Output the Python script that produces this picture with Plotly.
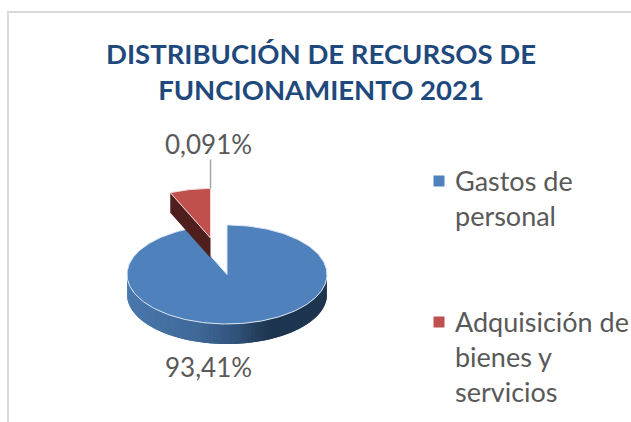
import numpy as np
import plotly.graph_objects as go

# --- data -----------------------------------------------------------------
categories = ["Gastos de<br>personal", "Adquisición de<br>bienes y<br>servicios"]
shares = [93.41, 6.59]
value_labels = ["93,41%", "0,091%"]
title_text = "DISTRIBUCIÓN DE RECURSOS DE<br>FUNCIONAMIENTO 2021"
top_colors = ["#4f81bd", "#c0504d"]
red_side_color = "#4f1f1d"
gradient_stops = [(0.0, "#4a78ae"), (0.35, "#3f6898"), (0.55, "#30527a"),
                  (0.66, "#223c5a"), (0.72, "#1e3550"), (1.0, "#1e3550")]

# --- pie geometry (pixel space of the axes) -------------------------------
CX, CY, RX, RY, DEPTH = 227, 274.5, 100, 49.5, 20
EXPLODE = (-16.5, -36.5)
FONT = "Lato, Carlito, Calibri, sans-serif"
TEXT_COLOR = "#595959"


def ring(a0, a1, n=120):
    """Points on the ellipse; angles clockwise from 12 o'clock, in degrees."""
    t = np.radians(np.linspace(a0, a1, n))
    return CX + RX * np.sin(t), CY - RY * np.cos(t)


def hex2rgb(h):
    return [int(h[i:i + 2], 16) for i in (1, 3, 5)]


def grad(u):
    for (u0, c0), (u1, c1) in zip(gradient_stops, gradient_stops[1:]):
        if u <= u1:
            f = (u - u0) / (u1 - u0)
            a, b = hex2rgb(c0), hex2rgb(c1)
            return "rgb(%d,%d,%d)" % tuple(round(x + (y - x) * f) for x, y in zip(a, b))
    return gradient_stops[-1][1]


fig = go.Figure()


def poly(x, y, fill, line=None, width=0, text=None):
    fig.add_trace(go.Scatter(
        x=list(x), y=list(y), mode="lines", fill="toself", fillcolor=fill,
        line=dict(color=line or fill, width=width),
        hoverinfo="text" if text else "skip", text=text, showlegend=False))


gap = 360 * shares[1] / sum(shares)

# blue side, front half of the ellipse, coloured band by band; every band
# runs under the next one so that no seams show
edges = np.linspace(90, 270, 91)
step = edges[1] - edges[0]
for a0 in edges[:-1]:
    x, y = ring(a0, min(a0 + 2 * step, 270), 5)
    xm = CX + RX * np.sin(np.radians(a0 + step / 2))
    u = (xm - (CX - RX)) / (2 * RX)
    poly(np.r_[x, x[::-1]], np.r_[y, (y + DEPTH)[::-1]], grad(u))

# blue top
x, y = ring(0, 360 - gap, 240)
poly(np.r_[CX, x, CX], np.r_[CY, y, CY], top_colors[0], "#dbe5f1", 1, categories[0])

# red slice, pulled out of the pie
x, y = ring(360 - gap, 360, 40)
x, y = x + EXPLODE[0], y + EXPLODE[1]
ax, ay = CX + EXPLODE[0], CY + EXPLODE[1]
poly([x[0], x[0], ax, ax, x[0]], [y[0], y[0] + DEPTH, ay + DEPTH, ay, y[0]], red_side_color)
poly(np.r_[ax, x, ax], np.r_[ay, y, ay], top_colors[1], "#f2dcdb", 1, categories[1])

# leader line of the small slice
fig.add_trace(go.Scatter(x=[x[-1], x[-1]], y=[y[-1], y[-1] - 29], mode="lines",
                         line=dict(color="#a6a6a6", width=1.5), hoverinfo="skip", showlegend=False))

# legend: squares and wrapped labels whose first line sits beside the square
legend_y = (181, 322)
fig.add_trace(go.Scatter(x=[439, 439], y=list(legend_y), mode="markers", hoverinfo="skip", showlegend=False,
                         marker=dict(symbol="square", size=11, color=top_colors)))
for name, ly in zip(categories, legend_y):
    fig.add_annotation(x=453, y=ly - 19, text=name, showarrow=False, xanchor="left", yanchor="top", align="left",
                       font=dict(family=FONT, size=27, color=TEXT_COLOR))

for txt, py in zip(value_labels, (367, 144)):
    fig.add_annotation(x=208, y=py, text=txt, showarrow=False,
                       font=dict(family=FONT, size=26, color=TEXT_COLOR))

fig.update_layout(
    width=631, height=422, autosize=False,
    margin=dict(l=0, r=0, t=0, b=0),
    paper_bgcolor="white", plot_bgcolor="white",
    title=dict(text=title_text, x=321 / 631, xanchor="center", y=1 - 64 / 422, yanchor="middle",
               font=dict(family=FONT, size=27.5, color="#1f497d", weight="bold")),
    xaxis=dict(range=[0, 631], visible=False, fixedrange=True),
    yaxis=dict(range=[422, 0], visible=False, fixedrange=True),
    showlegend=False,
    shapes=[
        dict(type="line", xref="paper", yref="paper", x0=7 / 631, x1=1, y0=1 - 12 / 422, y1=1 - 12 / 422,
             line=dict(color="#d9d9d9", width=2)),
        dict(type="line", xref="paper", yref="paper", x0=8 / 631, x1=8 / 631, y0=1 - 12 / 422, y1=0,
             line=dict(color="#d9d9d9", width=2)),
    ],
)
fig.write_html("out.html", post_script="document.body.style.margin='0';",
               config={"displayModeBar": False})
